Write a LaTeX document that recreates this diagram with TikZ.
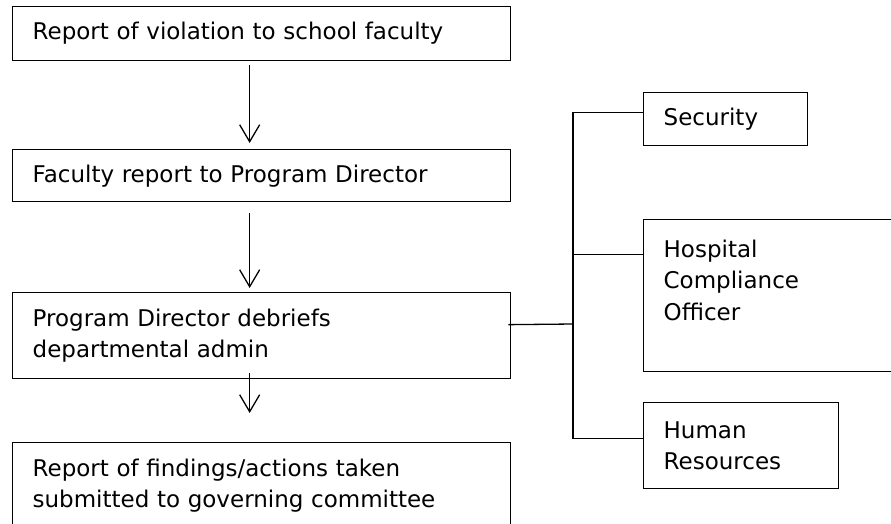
\documentclass[tikz,border=0pt]{standalone}
\usepackage{fontspec}
\setmainfont{DejaVu Sans}
\usetikzlibrary{arrows.meta}

\begin{document}
\begin{tikzpicture}[x=1pt, y=-1pt, line width=1.3pt,
        stage/.style={draw, rectangle, anchor=north west, inner xsep=20pt, inner ysep=0pt,
            align=left, font=\fontsize{23}{31.5}\selectfont},
        flow/.style={-{Straight Barb[length=17pt,width=20pt,line width=1.3pt]}}]
                \useasboundingbox (0,0) rectangle (891,523);
                \clip (0,0) rectangle (891,523);

                \node (report) [stage, text width=458pt, minimum height=54pt] at (12,6)
                {Report of violation to school faculty};
                \node (faculty) [stage, text width=458pt, minimum height=52pt] at (12,149)
                {Faculty report to Program Director};
                \node (debrief) [stage, text width=458pt, minimum height=86pt] at (12,292)
                {Program Director debriefs\\departmental admin};
                \node (findings) [stage, text width=458pt, minimum height=86pt] at (12,442)
                {Report of findings/actions taken\\submitted to governing committee};

                \node (security) [stage, text width=124pt, minimum height=53pt] at (643,92)
                {Security};
                \node (hospital) [stage, text width=230pt, minimum height=152pt, text depth=94pt] at (643,219)
                {Hospital\\Compliance\\Officer};
                \node (hr) [stage, text width=155pt, minimum height=86pt] at (643,402)
                {Human\\Resources};

                \draw[flow, shorten <=4pt, shorten >=6pt] ([xshift=-12pt]report.south) -- ([xshift=-12pt]faculty.north);
                \draw[flow, shorten <=11pt, shorten >=4pt] ([xshift=-12pt]faculty.south) -- ([xshift=-12pt]debrief.north);
                \draw[flow, shorten <=-6pt, shorten >=29pt] ([xshift=-12pt]debrief.south) -- ([xshift=-12pt]findings.north);

                \coordinate (bus) at (573,324);
                \draw ([xshift=-3pt,yshift=11pt]debrief.east) -- (bus);
                \draw (bus) |- ([yshift=6.5pt]security.west);
                \draw (bus) |- ([yshift=41pt]hospital.west);
                \draw (bus) |- ([yshift=7pt]hr.west);
            \end{tikzpicture}
\end{document}
